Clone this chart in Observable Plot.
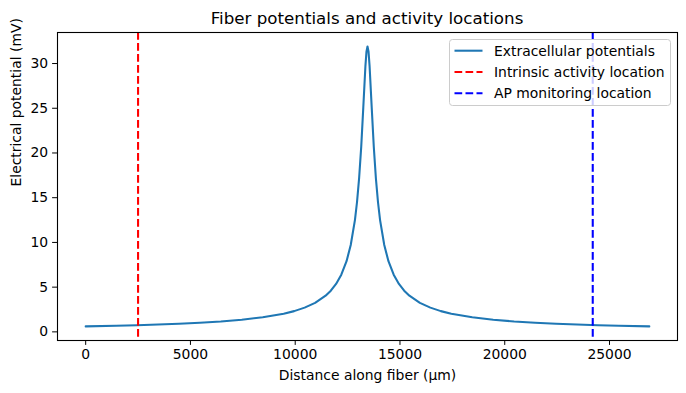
<!DOCTYPE html>
<html><head><meta charset="utf-8">
<script src="https://cdn.jsdelivr.net/npm/d3@7"></script>
<script src="https://cdn.jsdelivr.net/npm/@observablehq/plot@0.6"></script>
<style>
body{margin:0;background:#fff;font-family:"DejaVu Sans",sans-serif;}
#title{position:relative;height:30px;width:686px;}
#title span{position:absolute;left:367px;top:9.6px;transform:translateX(-50%);font-size:16.7px;line-height:1;white-space:nowrap;color:#000;}
#chart{width:686px;height:363px;}
</style></head><body>
<div id="title"><span>Fiber potentials and activity locations</span></div>
<div id="chart"></div>
<script>
// Data
const positionUm = [0, 1450, 2450, 3450, 4450, 5450, 6450, 7450, 8450, 9450, 9950, 10450, 10950, 11450, 11700, 11950, 12200, 12450, 12650, 12850, 12950, 13050, 13150, 13250, 13350, 13400, 13450,
  13500, 13550, 13650, 13750, 13850, 13950, 14050, 14250, 14450, 14700, 14950, 15200, 15450, 15950, 16450, 16950, 17450, 18450, 19450, 20450, 21450, 22450, 23450, 24450, 25450, 26900];
const potentialMv = [0.61, 0.68, 0.74, 0.82, 0.91, 1.02, 1.16, 1.36, 1.63, 2.03, 2.32, 2.71, 3.24, 4.04, 4.61, 5.36, 6.39, 7.90, 9.71, 12.50, 14.52, 17.18, 20.69, 25.13, 29.70, 31.31, 31.90,
  31.31, 29.70, 25.13, 20.69, 17.18, 14.52, 12.50, 9.71, 7.90, 6.39, 5.36, 4.61, 4.04, 3.24, 2.71, 2.32, 2.03, 1.63, 1.36, 1.16, 1.02, 0.91, 0.82, 0.74, 0.68, 0.61];
const intrinsicLocation = 2500;
const monitorLocation = 24200;
const xTicks = [0, 5000, 10000, 15000, 20000, 25000];
const yTicks = [0, 5, 10, 15, 20, 25, 30];
const xLabel = "Distance along fiber (µm)";
const yLabel = "Electrical potential (mV)";
const legendLabels = ["Extracellular potentials", "Intrinsic activity location", "AP monitoring location"];
const legendColors = ["#1f77b4", "red", "blue"];

const table = positionUm.map((x, i) => ({x, v: potentialMv[i]}));
const dash = "7.7,3.3";
const fs = 13.9;
const lw = 2.08;

const chart = Plot.plot({
  width: 686, height: 363,
  marginTop: 2, marginBottom: 53, marginLeft: 57, marginRight: 9,
  style: {fontFamily: "DejaVu Sans", fontSize: fs + "px", color: "black", background: "white", overflow: "visible"},
  x: {domain: [-1345, 28245]},
  y: {domain: [-0.965, 33.47]},
  marks: [
    Plot.line(table, {x: "x", y: "v", stroke: legendColors[0], strokeWidth: lw}),
    Plot.ruleX([intrinsicLocation], {stroke: legendColors[1], strokeWidth: lw, strokeDasharray: dash}),
    Plot.ruleX([monitorLocation], {stroke: legendColors[2], strokeWidth: lw, strokeDasharray: dash}),
    Plot.frame({stroke: "black", strokeWidth: 1.1}),
    Plot.axisX({ticks: xTicks, tickFormat: d => String(d), tickSize: 4.9, tickPadding: 4, fontSize: fs, label: null}),
    Plot.axisY({ticks: yTicks, tickFormat: d => String(d), tickSize: 4.9, tickPadding: 4.5, fontSize: fs, label: null}),
    Plot.text([xLabel], {frameAnchor: "bottom", dy: 39, fontSize: fs, fill: "black"}),
    Plot.text([yLabel], {frameAnchor: "left", dx: -41, rotate: -90, fontSize: fs, fill: "black"})
  ]
});
document.getElementById("chart").appendChild(chart);

const svg = d3.select(chart);
const lg = svg.append("g").attr("font-family", "DejaVu Sans").attr("font-size", fs + "px").attr("text-anchor", "start");
lg.append("rect").attr("x", 449.5).attr("y", 9.5).attr("width", 221).attr("height", 66).attr("rx", 3)
  .attr("fill", "white").attr("fill-opacity", 0.8).attr("stroke", "#cccccc");
const rowsY = [20.7, 42.0, 63.3];
legendLabels.forEach((t, i) => {
  lg.append("line").attr("x1", 454.5).attr("x2", 482.5).attr("y1", rowsY[i]).attr("y2", rowsY[i])
    .attr("stroke", legendColors[i]).attr("stroke-width", lw).attr("stroke-dasharray", i === 0 ? null : dash);
  lg.append("text").attr("x", 494).attr("y", rowsY[i]).attr("dy", "0.35em").attr("fill", "black").attr("text-anchor", "start").text(t);
});
</script>
</body></html>
